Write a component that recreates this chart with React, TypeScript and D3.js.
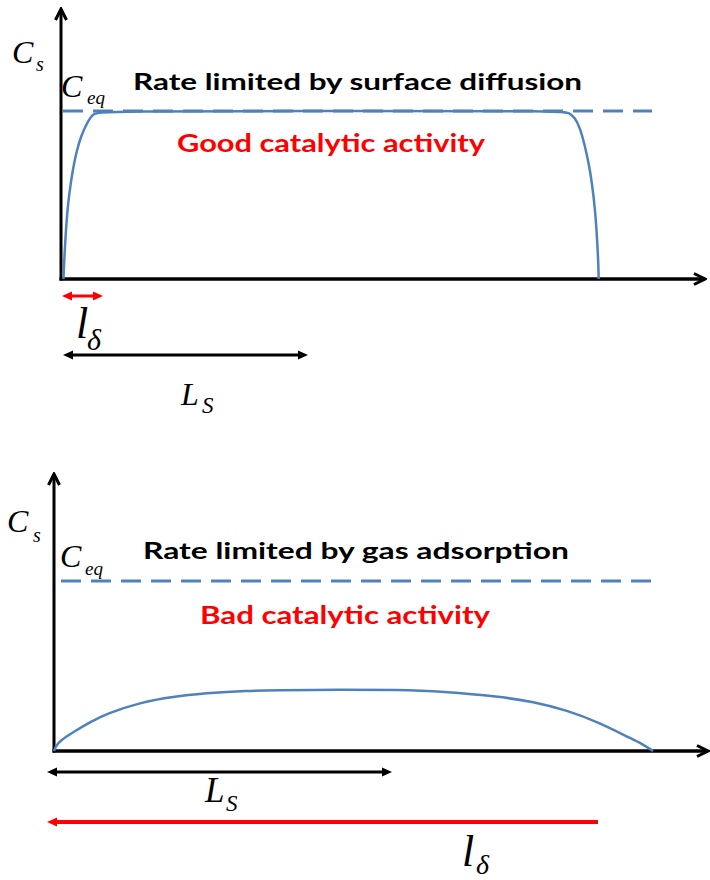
import React, { useEffect, useRef } from "react";
import * as d3 from "d3";

type Pt = [number, number];

// surface concentration profiles: [position along the surface, C_s / C_eq]
const diffusionProfile: Pt[] = [
  [2.5, 0], [2.8, 0.06], [3.5, 0.14], [4.5, 0.25], [6, 0.38], [8, 0.5],
  [12, 0.66], [16, 0.77], [20, 0.85], [26, 0.93], [32, 0.985], [40, 1],
  [300, 1], [500, 1], [508, 0.99], [514, 0.96], [519, 0.9], [524, 0.79],
  [528, 0.68], [531, 0.57], [534, 0.42], [536, 0.25], [537.3, 0.1], [537.7, 0],
];
const adsorptionProfile: Pt[] = [
  [0, 0], [2, 0.03], [6, 0.06], [19, 0.11], [36, 0.17], [53, 0.22],
  [86, 0.285], [119, 0.32], [153, 0.34], [186, 0.355], [253, 0.36],
  [353, 0.36], [386, 0.35], [446, 0.32], [479, 0.29], [513, 0.24],
  [546, 0.165], [573, 0.085], [589, 0.04], [599, 0],
];

// extent of the dashed C_eq line
const diffusionCeq: Pt = [2, 591];
const adsorptionCeq: Pt = [7, 603];

// length markers [from, to]
const diffusionLDelta: Pt = [1, 42];
const diffusionLS: Pt = [2, 247];
const adsorptionLS: Pt = [-7, 338];
const adsorptionLDelta: Pt = [-7, 544];

const panelTitles = ["Rate limited by surface diffusion", "Rate limited by gas adsorption"];
const activityLabels = ["Good catalytic activity", "Bad catalytic activity"];

const BLUE = "#4f81bd";
const RED = "#ff0000";
const SERIF = "'Liberation Serif', 'Times New Roman', serif";
const SANS = "Lato, 'Open Sans', sans-serif";

type Span = {
  ext: Pt; y: number; color: string; width: number; both: boolean;
  label: string; sub: string; lx: number; ly: number; sx: number; sy: number;
  size: number; subSize: number;
};

type Panel = {
  profile: Pt[]; domain: Pt; range: Pt; base: number; ceqY: number;
  axisTop: number; axisRight: number; ceq: Pt;
  title: { text: string; x: number; y: number; w: number };
  activity: { text: string; x: number; y: number; w: number };
  cs: number[]; ceqLabel: number[];
  spans: Span[];
};

const panels: Panel[] = [
  {
    profile: diffusionProfile, domain: [0, 640], range: [61, 701], base: 279, ceqY: 111,
    axisTop: 8, axisRight: 706, ceq: diffusionCeq,
    title: { text: panelTitles[0], x: 133, y: 90, w: 449 },
    activity: { text: activityLabels[0], x: 177, y: 152, w: 308 },
    cs: [12, 63, 36, 71], ceqLabel: [61, 97, 87, 104],
    spans: [
      { ext: diffusionLDelta, y: 296, color: RED, width: 3, both: true, label: "l", sub: "δ",
        lx: 76, ly: 338, sx: 87, sy: 350, size: 44, subSize: 30 },
      { ext: diffusionLS, y: 355, color: "#000", width: 3, both: true, label: "L", sub: "S",
        lx: 181, ly: 405, sx: 202, sy: 413, size: 32, subSize: 23 },
    ],
  },
  {
    profile: adsorptionProfile, domain: [0, 650], range: [54, 704], base: 751, ceqY: 581,
    axisTop: 473, axisRight: 709, ceq: adsorptionCeq,
    title: { text: panelTitles[1], x: 143, y: 559, w: 426 },
    activity: { text: activityLabels[1], x: 200, y: 624, w: 290 },
    cs: [7, 532, 33, 542], ceqLabel: [60, 567, 85, 575],
    spans: [
      { ext: adsorptionLS, y: 772, color: "#000", width: 3, both: true, label: "L", sub: "S",
        lx: 205, ly: 802, sx: 226, sy: 811, size: 35, subSize: 23 },
      { ext: adsorptionLDelta, y: 822, color: RED, width: 4, both: false, label: "l", sub: "δ",
        lx: 462, ly: 866, sx: 476, sy: 874, size: 44, subSize: 28 },
    ],
  },
];

const App: React.FC = () => {
  const ref = useRef<SVGSVGElement | null>(null);

  useEffect(() => {
    if (!ref.current) return;
    const svg = d3.select(ref.current);
    svg.selectAll("*").remove();

    const defs = svg.append("defs");
    // open chevron for the axes
    defs.append("marker")
      .attr("id", "chev").attr("viewBox", "0 0 14 14")
      .attr("refX", 12).attr("refY", 7)
      .attr("markerWidth", 14).attr("markerHeight", 14)
      .attr("markerUnits", "userSpaceOnUse").attr("orient", "auto")
      .append("path").attr("d", "M1,1.5L12,7L1,12.5")
      .attr("fill", "none").attr("stroke", "#000").attr("stroke-width", 3);
    // filled heads for the length markers
    [["#000", "head-k"], [RED, "head-r"]].forEach(([c, id]) => {
      defs.append("marker")
        .attr("id", id).attr("viewBox", "0 0 10 10")
        .attr("refX", 2).attr("refY", 5)
        .attr("markerWidth", 10).attr("markerHeight", 10)
        .attr("markerUnits", "userSpaceOnUse").attr("orient", "auto-start-reverse")
        .append("path").attr("d", "M0,0.5L10,5L0,9.5Z").attr("fill", c);
    });

    panels.forEach((p) => {
      const x = d3.scaleLinear().domain(p.domain).range(p.range);
      const y = d3.scaleLinear().domain([0, 1]).range([p.base, p.ceqY]);
      const g = svg.append("g");

      // axes
      g.append("line")
        .attr("x1", x(0)).attr("y1", y(0) + 1.5).attr("x2", x(0)).attr("y2", p.axisTop + 1)
        .attr("stroke", "#000").attr("stroke-width", 3).attr("marker-end", "url(#chev)");
      g.append("line")
        .attr("x1", x(0) - 1.5).attr("y1", y(0)).attr("x2", p.axisRight - 1).attr("y2", y(0))
        .attr("stroke", "#000").attr("stroke-width", 3.5).attr("marker-end", "url(#chev)");

      // profile
      const line = d3.line<Pt>()
        .x((d) => x(d[0]))
        .y((d) => y(d[1]))
        .curve(d3.curveBasis);
      g.append("path")
        .attr("d", line(p.profile) as string)
        .attr("fill", "none").attr("stroke", BLUE).attr("stroke-width", 2.5);

      // C_eq dashed level
      g.append("line")
        .attr("x1", x(p.ceq[0])).attr("x2", x(p.ceq[1]))
        .attr("y1", y(1)).attr("y2", y(1))
        .attr("stroke", BLUE).attr("stroke-width", 3).attr("stroke-dasharray", "20,10");

      // length markers
      p.spans.forEach((s) => {
        const head = s.color === RED ? "url(#head-r)" : "url(#head-k)";
        const l = g.append("line")
          .attr("x1", x(s.ext[0]) + 8).attr("x2", x(s.ext[1]) - (s.both ? 8 : 0))
          .attr("y1", s.y).attr("y2", s.y)
          .attr("stroke", s.color).attr("stroke-width", s.width)
          .attr("marker-start", head);
        if (s.both) l.attr("marker-end", head);

        g.append("text").attr("x", s.lx).attr("y", s.ly)
          .attr("font-family", SERIF).attr("font-style", "italic").attr("font-size", s.size)
          .text(s.label);
        g.append("text").attr("x", s.sx).attr("y", s.sy)
          .attr("font-family", SERIF).attr("font-style", "italic").attr("font-size", s.subSize)
          .text(s.sub);
      });

      // axis symbols
      const sym = (pos: number[], main: string, sub: string, subSize: number) => {
        g.append("text").attr("x", pos[0]).attr("y", pos[1])
          .attr("font-family", SERIF).attr("font-style", "italic").attr("font-size", 32)
          .text(main);
        g.append("text").attr("x", pos[2]).attr("y", pos[3])
          .attr("font-family", SERIF).attr("font-style", "italic").attr("font-size", subSize)
          .text(sub);
      };
      sym(p.cs, "C", "s", 20);
      sym(p.ceqLabel, "C", "eq", 19);

      // captions
      g.append("text")
        .attr("x", p.title.x).attr("y", p.title.y)
        .attr("font-family", SANS).attr("font-weight", 700).attr("font-size", 23)
        .attr("textLength", p.title.w).attr("lengthAdjust", "spacingAndGlyphs")
        .attr("fill", "#000").text(p.title.text);
      g.append("text")
        .attr("x", p.activity.x).attr("y", p.activity.y)
        .attr("font-family", SANS).attr("font-weight", 700).attr("font-size", 25)
        .attr("textLength", p.activity.w).attr("lengthAdjust", "spacingAndGlyphs")
        .attr("fill", RED).text(p.activity.text);
    });
  }, []);

  return (
    <svg
      ref={ref}
      width={710}
      height={880}
      style={{ position: "absolute", left: 0, top: 0, background: "#fff" }}
    />
  );
};

export default App;
